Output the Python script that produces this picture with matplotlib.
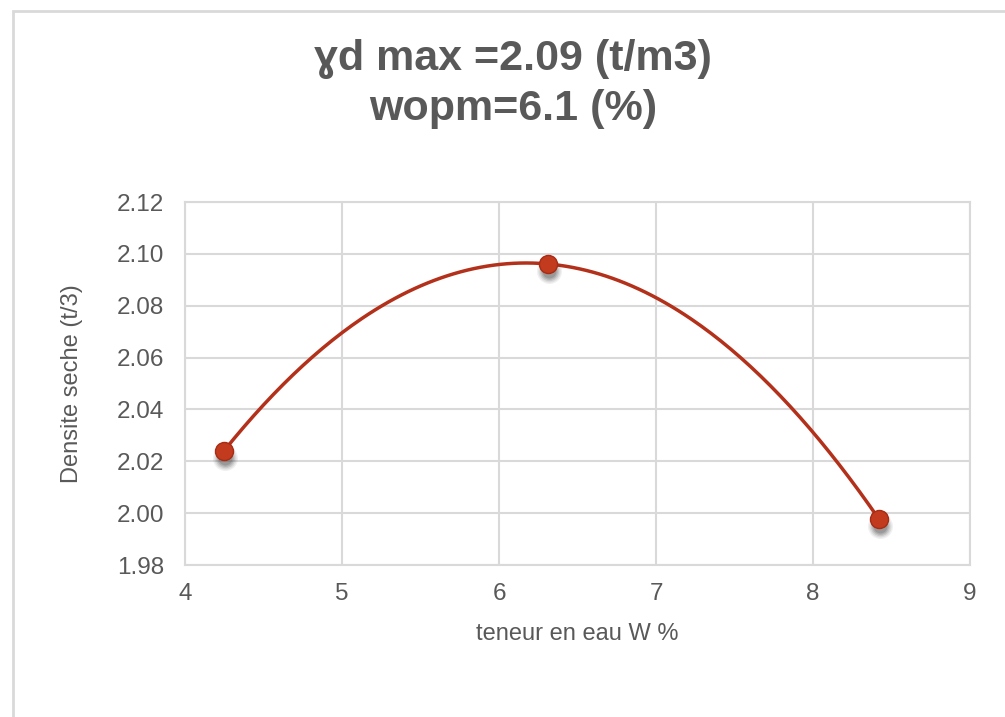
import matplotlib
matplotlib.use("Agg")
import matplotlib.pyplot as plt
import matplotlib.transforms as mtransforms
from matplotlib.patches import Rectangle
import numpy as np

# measured points: water content (%) vs dry density
w = [4.248, 6.312, 8.420]
gd = [2.024, 2.0961, 1.9977]

title = "ɣd max =2.09 (t/m3)\nwopm=6.1 (%)"
xlabel = "teneur en eau W %"
ylabel = "Densite seche (t/3)"
xticks = [4, 5, 6, 7, 8, 9]
yticks = [1.98, 2.00, 2.02, 2.04, 2.06, 2.08, 2.10, 2.12]

TXT = "#595959"
GRID = "#d9d9d9"
LINE = "#b3301a"

plt.rcParams["font.family"] = ["Liberation Sans", "DejaVu Sans"]

fig = plt.figure(figsize=(10.05, 7.17), dpi=100)
fig.patches.append(Rectangle((12.5 / 1005, -0.1), 1.2, 1.1 - 10.5 / 717,
                             transform=fig.transFigure, fill=False,
                             edgecolor=GRID, linewidth=2))

ax = fig.add_axes([185 / 1005, 1 - 565 / 717, 785 / 1005, 363 / 717])
ax.set_xlim(4, 9)
ax.set_ylim(1.98, 2.12)
ax.set_xticks(xticks)
ax.set_yticks(yticks)
ax.set_yticklabels(["%.2f" % v for v in yticks])
ax.grid(True, color=GRID, linewidth=1.5)
ax.set_axisbelow(True)
for s in ax.spines.values():
    s.set_color(GRID)
    s.set_linewidth(1.5)
ax.tick_params(length=0, labelsize=17.5, labelcolor=TXT)
ax.tick_params(axis="x", pad=13)
ax.tick_params(axis="y", pad=15)

# second order polynomial trend through the points
coef = np.polyfit(w, gd, 2)
xs = np.linspace(min(w), max(w), 200)
ax.plot(xs, np.polyval(coef, xs), color=LINE, linewidth=2.5,
        solid_capstyle="round", zorder=3)

# soft drop shadow under the markers
for ms, a in [(18, 0.07), (16, 0.09), (14, 0.12), (12, 0.15), (10, 0.18)]:
    tr = mtransforms.offset_copy(ax.transData, fig=fig, x=0.5, y=-5, units="points")
    ax.plot(w, gd, linestyle="none", marker="o", markersize=ms,
            markerfacecolor="#303030", markeredgecolor="none", alpha=a,
            transform=tr, zorder=3.5)

ax.plot(w, gd, linestyle="none", marker="o", markersize=13,
        markerfacecolor="#c23b1f", markeredgecolor="#a82b14",
        markeredgewidth=1, zorder=4)

ax.set_xlabel(xlabel, fontsize=17, color=TXT, labelpad=13)
ax.set_ylabel(ylabel, fontsize=17, color=TXT, labelpad=24)

fig.text(513 / 1005, 1 - 84 / 717, title, ha="center", va="center",
         fontsize=31, fontweight="bold", color=TXT, linespacing=1.32)

fig.savefig("out.png", dpi=100)
